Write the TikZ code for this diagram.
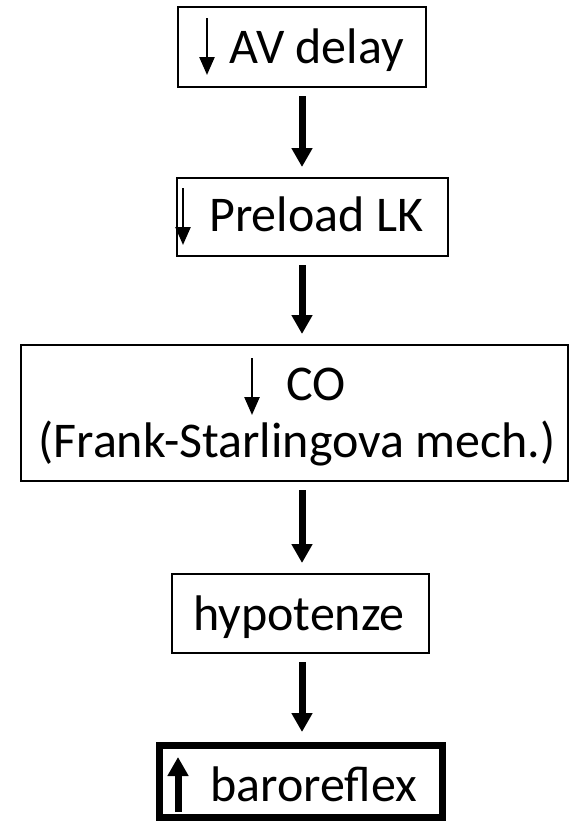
\documentclass[tikz,border=0pt]{standalone}
\usepackage{fontspec}
\setmainfont{Carlito}
\usetikzlibrary{arrows.meta}

\tikzset{
  box/.style={draw, line width=2pt, inner sep=0pt},
  boldbox/.style={draw, line width=7pt, inner sep=0pt},
  txt/.style={inner sep=0pt, font=\fontsize{50}{52}\selectfont},
  conn/.style={-{Triangle[width=20pt,length=19pt]}, line width=7pt, shorten <=8pt, shorten >=10pt},
  smallarr/.style={-{Triangle[width=15pt,length=18pt]}, line width=2.5pt},
  bigarr/.style={-{Triangle[width=20pt,length=19pt]}, line width=7pt}
}

\begin{document}
\begin{tikzpicture}[x=1pt, y=-1pt]

  % page frame, y runs downwards
  \useasboundingbox (0,0) rectangle (571,822);

  % axis of the connectors
  \coordinate (ax) at (302,0);

  % boxes
  \node[box, minimum width=248pt, minimum height=80pt] (delay) at (302,47) {};
  \node[box, minimum width=271pt, minimum height=78pt] (preload) at (312.5,217) {};
  \node[box, minimum width=547pt, minimum height=136pt] (co) at (294.5,413) {};
  \node[box, minimum width=257pt, minimum height=79pt] (hypo) at (300.5,613.5) {};
  \node[boldbox, minimum width=283pt, minimum height=72pt] (baro) at (301,781.5) {};

  % texts
  \node[txt, anchor=base west] (tdelay) at (229,63) {AV delay};
  \node[txt, anchor=base west] (tpreload) at (209,231) {Preload LK};
  \node[txt, anchor=base west] (tco) at (286,400) {CO};
  \node[txt, anchor=base] (tfs) at (297,457) {(Frank-Starlingova mech.)};
  \node[txt, anchor=base] (thypo) at (299,630) {hypotenze};
  \node[txt, anchor=base west] (tbaro) at (210,801) {baroreflex};

  % small arrows in front of the texts
  \draw[smallarr] (207,18) -- (207,75);
  \draw[smallarr] (183,188) -- (183,245);
  \draw[smallarr] (252,358) -- (252,415);
  \draw[bigarr] (178,812) -- (178,757);

  % connectors
  \draw[conn] (delay.south -| ax) -- (preload.north -| ax);
  \draw[conn] (preload.south -| ax) -- (co.north -| ax);
  \draw[conn] (co.south -| ax) -- (hypo.north -| ax);
  \draw[conn] (hypo.south -| ax) -- (baro.north -| ax);

\end{tikzpicture}
\end{document}
